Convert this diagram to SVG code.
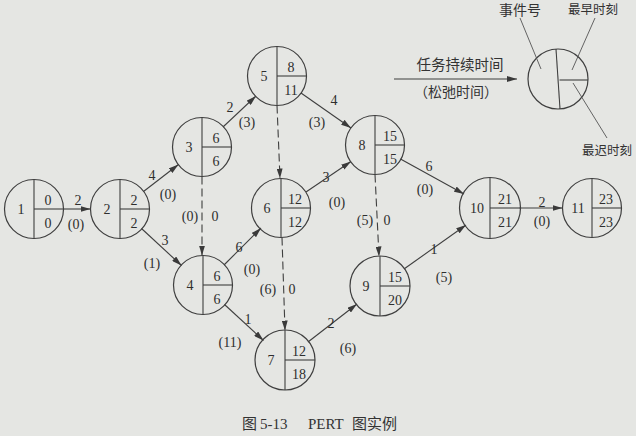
<svg xmlns="http://www.w3.org/2000/svg" width="636" height="436" viewBox="0 0 636 436">
<defs>
<marker id="ah" viewBox="0 0 10 6" refX="10" refY="3" markerWidth="10" markerHeight="6" markerUnits="userSpaceOnUse" orient="auto">
<path d="M0,0 L10,3 L0,6 Z" fill="#3a3a3a"/>
</marker>
<style>
.bg{fill:#e5e6e3}
.c{fill:none;stroke:#3f3f3f;stroke-width:1.2}
.d{stroke:#3f3f3f;stroke-width:1.1}
.t{font-family:"Liberation Serif","DejaVu Serif",serif;font-size:14px;fill:#2e2e2e;text-anchor:middle}
.e{stroke:#3f3f3f;stroke-width:1.1;fill:none;marker-end:url(#ah)}
.ed{stroke:#3f3f3f;stroke-width:1.1;fill:none;stroke-dasharray:8 4;marker-end:url(#ah)}
.cn{font-family:"Noto Sans CJK SC",sans-serif;fill:#333;text-anchor:middle}
.cap{font-family:"Liberation Serif","Noto Sans CJK SC",serif;font-size:15px;fill:#333}
.l{stroke:#555;stroke-width:0.9;fill:none}
</style>
</defs>
<rect class="bg" x="0" y="0" width="636" height="436"/>

<g id="connectors">
<line class="e" x1="63.5" y1="209" x2="90.5" y2="209"/>
<line class="e" x1="143.5" y1="191.5" x2="178.5" y2="164.5"/>
<line class="e" x1="141.5" y1="228.5" x2="181.5" y2="265.5"/>
<line class="ed" x1="202" y1="176.5" x2="202" y2="255.5"/>
<line class="e" x1="223" y1="127" x2="256" y2="96"/>
<line class="e" x1="301" y1="93" x2="351" y2="128"/>
<line class="ed" x1="277" y1="105.5" x2="280" y2="178.5"/>
<line class="e" x1="224" y1="265" x2="261" y2="228"/>
<line class="e" x1="306" y1="192" x2="351" y2="161.5"/>
<line class="ed" x1="282" y1="237.5" x2="285" y2="330.5"/>
<line class="e" x1="224.5" y1="304.5" x2="263.5" y2="340.5"/>
<line class="e" x1="308" y1="342" x2="357" y2="304"/>
<line class="ed" x1="375" y1="174.5" x2="379" y2="256.5"/>
<line class="e" x1="400.5" y1="159" x2="464" y2="194"/>
<line class="e" x1="404" y1="269" x2="466" y2="225"/>
<line class="e" x1="519.5" y1="208" x2="562.5" y2="208"/>
<line class="e" x1="394" y1="79" x2="517" y2="79"/>
</g>

<g id="edge-labels" class="t">
<text x="78" y="205">2</text><text x="76" y="229">(0)</text>
<text x="152" y="180">4</text><text x="168" y="199">(0)</text>
<text x="165" y="245">3</text><text x="152" y="268">(1)</text>
<text x="190" y="221">(0)</text><text x="215" y="221">0</text>
<text x="230" y="112">2</text><text x="247" y="127">(3)</text>
<text x="334" y="105">4</text><text x="317" y="127">(3)</text>
<text x="239" y="252">6</text><text x="252" y="274">(0)</text>
<text x="326" y="182">3</text><text x="337" y="207">(0)</text>
<text x="268" y="294">(6)</text><text x="292" y="294">0</text>
<text x="248" y="324">1</text><text x="230" y="347">(11)</text>
<text x="331" y="328">2</text><text x="348" y="353">(6)</text>
<text x="365" y="225">(5)</text><text x="387" y="225">0</text>
<text x="429" y="171">6</text><text x="425" y="194">(0)</text>
<text x="434" y="254">1</text><text x="444" y="282">(5)</text>
<text x="542" y="207">2</text><text x="542" y="226">(0)</text>
</g>

<g id="n1"><circle class="c" cx="34" cy="209" r="29.5"/><line class="d" x1="34" y1="179.5" x2="34" y2="238.5"/><line class="d" x1="34" y1="209" x2="63.5" y2="209"/><text class="t" x="21" y="214">1</text><text class="t" x="48" y="205">0</text><text class="t" x="48" y="228">0</text></g>
<g id="n2"><circle class="c" cx="120" cy="209" r="29.5"/><line class="d" x1="120" y1="179.5" x2="120" y2="238.5"/><line class="d" x1="120" y1="209" x2="149.5" y2="209"/><text class="t" x="107" y="214">2</text><text class="t" x="134" y="205">2</text><text class="t" x="134" y="228">2</text></g>
<g id="n3"><circle class="c" cx="202" cy="147" r="29.5"/><line class="d" x1="202" y1="117.5" x2="202" y2="176.5"/><line class="d" x1="202" y1="147" x2="231.5" y2="147"/><text class="t" x="189" y="152">3</text><text class="t" x="216" y="143">6</text><text class="t" x="216" y="166">6</text></g>
<g id="n4"><circle class="c" cx="203" cy="285" r="29.5"/><line class="d" x1="203" y1="255.5" x2="203" y2="314.5"/><line class="d" x1="203" y1="285" x2="232.5" y2="285"/><text class="t" x="190" y="290">4</text><text class="t" x="217" y="281">6</text><text class="t" x="217" y="304">6</text></g>
<g id="n5"><circle class="c" cx="277" cy="76" r="29.5"/><line class="d" x1="277" y1="46.5" x2="277" y2="105.5"/><line class="d" x1="277" y1="76" x2="306.5" y2="76"/><text class="t" x="264" y="81">5</text><text class="t" x="291" y="72">8</text><text class="t" x="291" y="95">11</text></g>
<g id="n6"><circle class="c" cx="281" cy="208" r="29.5"/><line class="d" x1="281" y1="178.5" x2="281" y2="237.5"/><line class="d" x1="281" y1="208" x2="310.5" y2="208"/><text class="t" x="267" y="213">6</text><text class="t" x="295" y="204">12</text><text class="t" x="295" y="227">12</text></g>
<g id="n7"><circle class="c" cx="285" cy="360" r="30"/><line class="d" x1="285" y1="330" x2="285" y2="390"/><line class="d" x1="285" y1="360" x2="315" y2="360"/><text class="t" x="271" y="365">7</text><text class="t" x="299" y="356">12</text><text class="t" x="299" y="379">18</text></g>
<g id="n8"><circle class="c" cx="375" cy="145" r="29.5"/><line class="d" x1="375" y1="115.5" x2="375" y2="174.5"/><line class="d" x1="375" y1="145" x2="404.5" y2="145"/><text class="t" x="362" y="150">8</text><text class="t" x="390" y="141">15</text><text class="t" x="390" y="164">15</text></g>
<g id="n9"><circle class="c" cx="380" cy="286" r="30"/><line class="d" x1="380" y1="256" x2="380" y2="316"/><line class="d" x1="380" y1="286" x2="410" y2="286"/><text class="t" x="366" y="291">9</text><text class="t" x="395" y="282">15</text><text class="t" x="395" y="305">20</text></g>
<g id="n10"><circle class="c" cx="490" cy="208" r="30.5"/><line class="d" x1="490" y1="177.5" x2="490" y2="238.5"/><line class="d" x1="490" y1="208" x2="520.5" y2="208"/><text class="t" x="477" y="213">10</text><text class="t" x="505" y="204">21</text><text class="t" x="505" y="227">21</text></g>
<g id="n11"><circle class="c" cx="592" cy="208" r="29.5"/><line class="d" x1="592" y1="178.5" x2="592" y2="237.5"/><line class="d" x1="592" y1="208" x2="621.5" y2="208"/><text class="t" x="578" y="213">11</text><text class="t" x="606" y="204">23</text><text class="t" x="606" y="227">23</text></g>

<g id="legend">
<circle class="c" cx="558" cy="79" r="30"/>
<line class="d" x1="556" y1="49" x2="560" y2="109"/>
<line class="d" x1="559.5" y1="80" x2="588" y2="80"/>
<line class="l" x1="520" y1="18" x2="541" y2="69"/>
<line class="l" x1="595" y1="18" x2="572" y2="70"/>
<line class="l" x1="607" y1="138" x2="573" y2="83"/>
<text class="cn" x="520" y="15" font-size="14">事件号</text>
<text class="cn" x="593" y="14" font-size="12.5">最早时刻</text>
<text class="cn" x="607" y="155" font-size="12.5">最迟时刻</text>
<text class="cn" x="460" y="70" font-size="14.5">任务持续时间</text>
<text class="cn" x="456" y="97" font-size="14">（松弛时间）</text>
</g>

<g id="caption" class="cap">
<text x="242" y="429">图</text>
<text x="260" y="429">5-13</text>
<text x="308" y="429">PERT</text>
<text x="352" y="429">图实例</text>
</g>
</svg>
